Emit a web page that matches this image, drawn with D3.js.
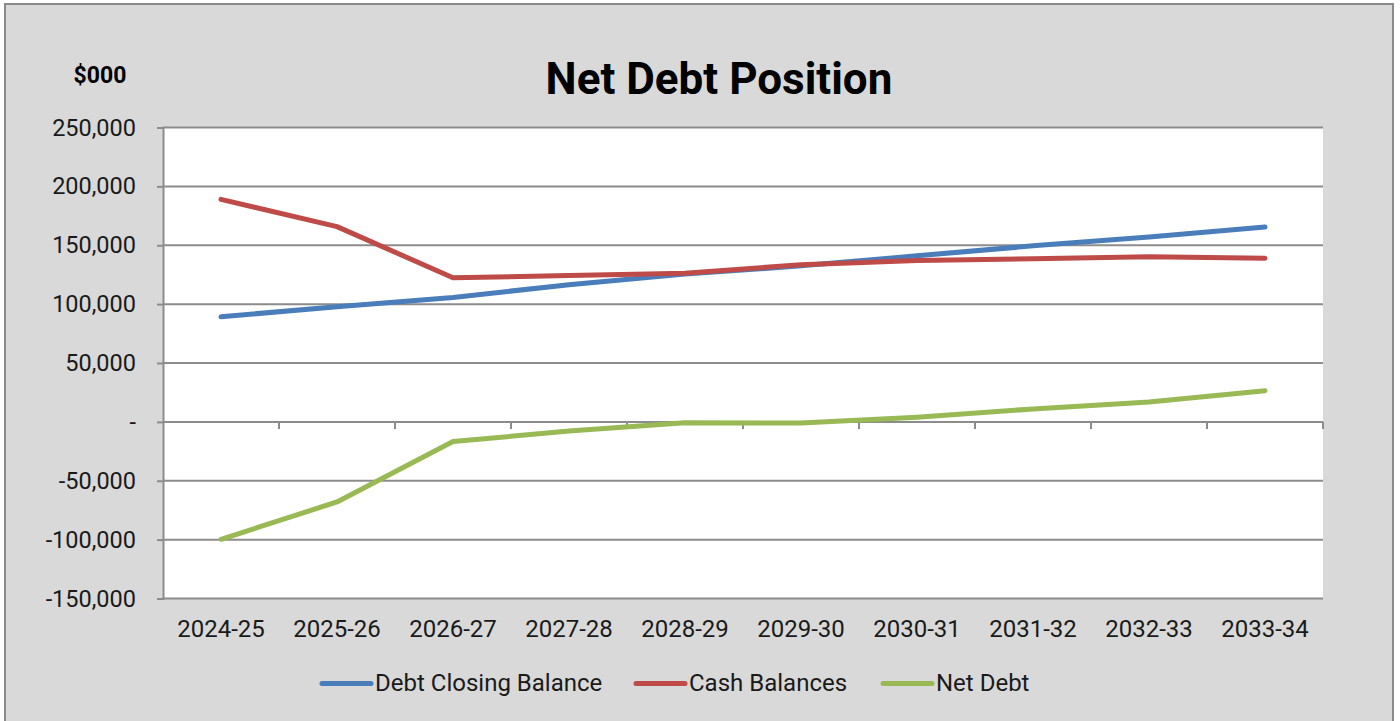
<!DOCTYPE html>
<html>
<head>
<meta charset="utf-8">
<script src="https://cdn.jsdelivr.net/npm/d3@7"></script>
<style>
  html, body { margin: 0; padding: 0; background: #ffffff; }
  svg { display: block; font-family: Roboto, "Liberation Sans", Arial, sans-serif; }
</style>
</head>
<body>
<svg id="chart" width="1400" height="721"></svg>
<script>
// Financial years on the category axis
const years = ["2024-25", "2025-26", "2026-27", "2027-28", "2028-29",
               "2029-30", "2030-31", "2031-32", "2032-33", "2033-34"];

// Balances in $000
const debtClosingBalance = [89300, 97800, 105700, 116500, 125500, 132500, 141000, 149500, 157000, 165500];
const cashBalances       = [189000, 165800, 122400, 124300, 126200, 133500, 137000, 138500, 140200, 139000];
const netDebt            = [-99700, -68000, -16700, -7800, -700, -1000, 4000, 11000, 16800, 26500];

// Value axis ticks
const yTicks = [250000, 200000, 150000, 100000, 50000, 0, -50000, -100000, -150000];

const seriesNames  = ["Debt Closing Balance", "Cash Balances", "Net Debt"];
const seriesValues = [debtClosingBalance, cashBalances, netDebt];
const seriesColors = ["#4a7ebb", "#be4b48", "#98b954"];

const svg = d3.select("#chart");

// Chart frame
svg.append("rect")
  .attr("x", 5).attr("y", 4).attr("width", 1388).attr("height", 722)
  .attr("fill", "#d9d9d9").attr("stroke", "#8a8a8a").attr("stroke-width", 2);

const plot = { left: 163, right: 1323, top: 127.5, bottom: 598.5 };

const x = d3.scaleBand().domain(years).range([plot.left, plot.right]).padding(0);
const y = d3.scaleLinear().domain([-150000, 250000]).range([plot.bottom, plot.top]);

// Plot area background
svg.append("rect")
  .attr("x", plot.left).attr("y", plot.top)
  .attr("width", plot.right - plot.left).attr("height", plot.bottom - plot.top)
  .attr("fill", "#ffffff");

const gridColor = "#8c8c8c";

// Horizontal gridlines
svg.append("g").selectAll("line").data(yTicks).join("line")
  .attr("x1", plot.left).attr("x2", plot.right)
  .attr("y1", d => y(d)).attr("y2", d => y(d))
  .attr("stroke", gridColor).attr("stroke-width", 2);

// Value axis, accounting style: zero shown as a dash, plain hyphen for negatives
const fmt = d => d === 0 ? "-" : (d < 0 ? "-" : "") + d3.format(",")(Math.abs(d));
const yAxis = d3.axisLeft(y).tickValues(yTicks).tickFormat(fmt).tickSize(6).tickPadding(21);
const gy = svg.append("g").attr("transform", `translate(${plot.left},0)`).call(yAxis);
gy.select(".domain").attr("stroke", gridColor).attr("stroke-width", 2);
gy.selectAll(".tick line").attr("stroke", gridColor).attr("stroke-width", 2);
gy.selectAll(".tick text")
  .attr("fill", "#1a1a1a").style("font-size", "23.5px")
  .style("font-family", "Roboto, sans-serif");

// Category axis on the zero line, ticks between categories
const boundaries = years.map(d => x(d) + x.bandwidth());
svg.append("g").selectAll("line").data(boundaries).join("line")
  .attr("x1", d => d).attr("x2", d => d)
  .attr("y1", y(0)).attr("y2", y(0) + 7)
  .attr("stroke", gridColor).attr("stroke-width", 2);

// Category labels below the plot
svg.append("g").selectAll("text").data(years).join("text")
  .attr("x", d => x(d) + x.bandwidth() / 2)
  .attr("y", 637)
  .attr("text-anchor", "middle")
  .attr("fill", "#1a1a1a")
  .style("font-size", "24px")
  .text(d => d);

// Series lines
const line = d3.line()
  .x((d, i) => x(years[i]) + x.bandwidth() / 2)
  .y(d => y(d));

seriesValues.forEach((vals, k) => {
  svg.append("path")
    .datum(vals)
    .attr("d", line)
    .attr("fill", "none")
    .attr("stroke", seriesColors[k])
    .attr("stroke-width", 5)
    .attr("stroke-linecap", "round")
    .attr("stroke-linejoin", "round");
});

// Title and unit label
svg.append("text")
  .attr("x", 719).attr("y", 94)
  .attr("text-anchor", "middle")
  .attr("fill", "#000")
  .style("font-size", "44px").style("font-weight", "bold")
  .text("Net Debt Position");

svg.append("text")
  .attr("x", 100).attr("y", 83)
  .attr("text-anchor", "middle")
  .attr("fill", "#000")
  .style("font-size", "23px").style("font-weight", "bold")
  .text("$000");

// Legend
const legendItems = [
  { name: seriesNames[0], color: seriesColors[0], x0: 322 },
  { name: seriesNames[1], color: seriesColors[1], x0: 636 },
  { name: seriesNames[2], color: seriesColors[2], x0: 883 }
];
const lg = svg.append("g");
legendItems.forEach(it => {
  lg.append("line")
    .attr("x1", it.x0).attr("x2", it.x0 + 49)
    .attr("y1", 683.5).attr("y2", 683.5)
    .attr("stroke", it.color).attr("stroke-width", 5)
    .attr("stroke-linecap", "round");
  lg.append("text")
    .attr("x", it.x0 + 53).attr("y", 691)
    .attr("fill", "#1a1a1a")
    .style("font-size", "24px")
    .text(it.name);
});
</script>
</body>
</html>
